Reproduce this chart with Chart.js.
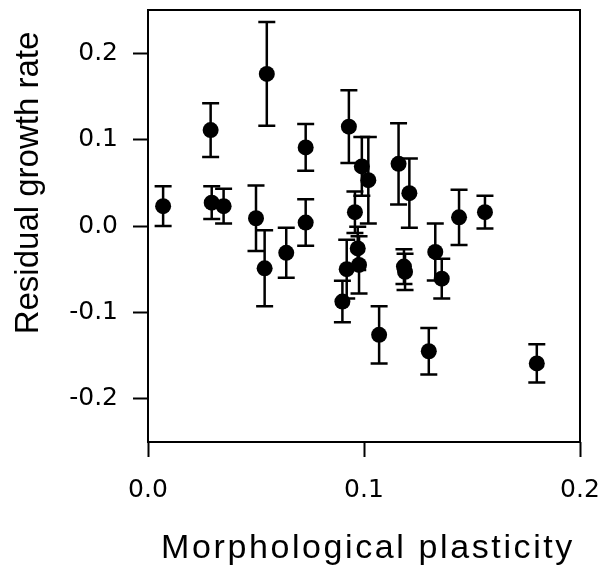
<!DOCTYPE html>
<html>
<head>
<meta charset="utf-8">
<script src="https://cdn.jsdelivr.net/npm/chart.js@4"></script>
<style>
  body { margin: 0; background: #fff; }
  #wrap { width: 603px; height: 567px; }
</style>
</head>
<body>
<div id="wrap"><canvas id="plasticityChart" width="603" height="567"></canvas></div>
<script>
// values
const plasticity = [0.007, 0.029, 0.0295, 0.035, 0.050, 0.054, 0.055, 0.064, 0.073, 0.073,
    0.090, 0.092, 0.093, 0.0958, 0.0971, 0.0977, 0.099, 0.102, 0.107, 0.116,
    0.1185, 0.119, 0.121, 0.130, 0.133, 0.136, 0.144, 0.156, 0.180];
const growth = [0.023, 0.111, 0.027, 0.023, 0.009, -0.049, 0.176, -0.031, 0.091, 0.004,
    -0.0875, -0.050, 0.115, 0.016, -0.026, -0.045, 0.069, 0.053, -0.126, 0.072,
    -0.047, -0.053, 0.038, -0.145, -0.030, -0.061, 0.010, 0.016, -0.159];
const growthErr = [0.023, 0.031, 0.019, 0.020, 0.038, 0.044, 0.060, 0.029, 0.027, 0.027,
    0.024, 0.034, 0.042, 0.024, 0.025, 0.033, 0.034, 0.050, 0.033, 0.047,
    0.020, 0.021, 0.040, 0.027, 0.033, 0.023, 0.032, 0.019, 0.022];
const xTicks = [0, 0.1, 0.2];
const yTicks = [-0.2, -0.1, 0, 0.1, 0.2];
const xTitle = 'Morphological plasticity';
const yTitle = 'Residual growth rate';

// whiskers with caps, drawn through the chart scales
const errorBars = {
    id: 'errorBars',
    beforeDatasetsDraw(chart) {
        const ctx = chart.ctx;
        const xs = chart.scales.x, ys = chart.scales.y;
        ctx.save();
        ctx.strokeStyle = '#000';
        ctx.lineWidth = 2.5;
        plasticity.forEach((p, i) => {
            const px = xs.getPixelForValue(p);
            const top = ys.getPixelForValue(growth[i] + growthErr[i]);
            const bot = ys.getPixelForValue(growth[i] - growthErr[i]);
            ctx.beginPath();
            ctx.moveTo(px, top); ctx.lineTo(px, bot);
            ctx.moveTo(px - 8.5, top); ctx.lineTo(px + 8.5, top);
            ctx.moveTo(px - 8.5, bot); ctx.lineTo(px + 8.5, bot);
            ctx.stroke();
        });
        ctx.restore();
    }
};

// box round the plot and the two axis titles
const frameAndTitles = {
    id: 'frameAndTitles',
    afterDraw(chart) {
        const ctx = chart.ctx;
        const a = chart.chartArea;
        ctx.save();
        ctx.strokeStyle = '#000';
        ctx.lineWidth = 2;
        ctx.strokeRect(a.left, a.top, a.right - a.left, a.bottom - a.top);

        ctx.fillStyle = '#000';
        ctx.textAlign = 'center';
        ctx.textBaseline = 'alphabetic';
        ctx.font = '34px "Liberation Sans", Arial, sans-serif';
        ctx.letterSpacing = '2.6px';
        ctx.fillText(xTitle, 368, 558);

        ctx.letterSpacing = '0px';
        ctx.font = '33px "Liberation Sans", Arial, sans-serif';
        ctx.translate(38, 183);
        ctx.rotate(-Math.PI / 2);
        ctx.fillText(yTitle, 0, 0);
        ctx.restore();
    }
};

// keep the plot box exactly where the figure has it
function noScalePadding(scale) {
    scale.paddingTop = 0;
    scale.paddingBottom = 0;
    scale.paddingLeft = 0;
    scale.paddingRight = 0;
}

document.addEventListener('DOMContentLoaded', function () {
    const points = plasticity.map((p, i) => ({ x: p, y: growth[i] }));

    const ctx = document.getElementById('plasticityChart').getContext('2d');
    new Chart(ctx, {
        type: 'scatter',
        data: {
            datasets: [{
                data: points,
                backgroundColor: '#000',
                borderWidth: 0,
                pointRadius: 8,
                pointHoverRadius: 8
            }]
        },
        options: {
            responsive: false,
            animation: false,
            events: [],
            layout: { padding: { top: 10, right: 23, left: 0, bottom: 0 } },
            plugins: { legend: { display: false }, tooltip: { enabled: false } },
            scales: {
                x: {
                    type: 'linear',
                    min: 0,
                    max: 0.2,
                    afterFit(scale) { scale.height = 125; noScalePadding(scale); },
                    afterBuildTicks(scale) { scale.ticks = xTicks.map(v => ({ value: v })); },
                    border: { display: false },
                    grid: {
                        drawOnChartArea: false,
                        drawTicks: true,
                        tickLength: 15,
                        tickWidth: 2,
                        tickColor: '#000'
                    },
                    ticks: {
                        color: '#000',
                        padding: 18,
                        maxRotation: 0,
                        font: { family: 'DejaVu Sans', size: 25 },
                        callback: v => v.toFixed(1)
                    }
                },
                y: {
                    type: 'linear',
                    min: -0.25,
                    max: 0.25,
                    afterFit(scale) { scale.width = 148; noScalePadding(scale); },
                    afterBuildTicks(scale) { scale.ticks = yTicks.map(v => ({ value: v })); },
                    border: { display: false },
                    grid: {
                        drawOnChartArea: false,
                        drawTicks: true,
                        tickLength: 15,
                        tickWidth: 2,
                        tickColor: '#000'
                    },
                    ticks: {
                        color: '#000',
                        padding: 15,
                        font: { family: 'DejaVu Sans', size: 25 },
                        callback: v => v.toFixed(1)
                    }
                }
            }
        },
        plugins: [errorBars, frameAndTitles]
    });
});
</script>
</body>
</html>
